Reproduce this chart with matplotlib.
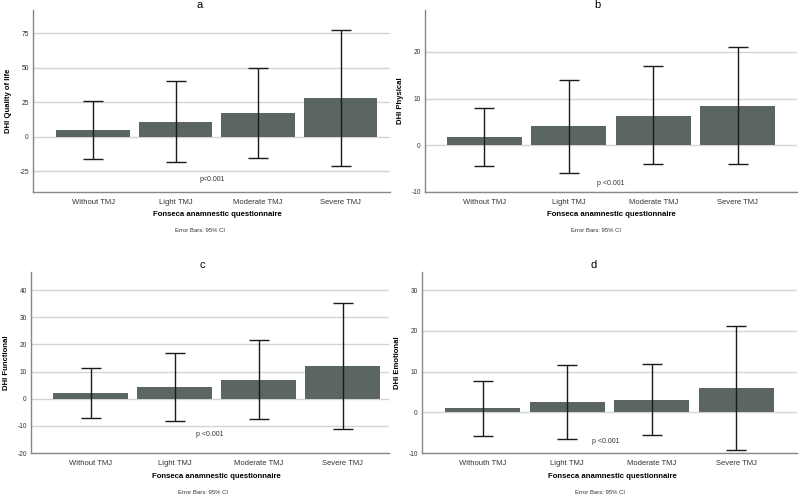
import matplotlib
matplotlib.use("Agg")
import matplotlib.pyplot as plt
import numpy as np

plt.rcParams['font.family'] = ['Liberation Sans', 'DejaVu Sans']

categories_abc = ["Without TMJ", "Light TMJ", "Moderate TMJ", "Severe TMJ"]
categories_d = ["Withouth TMJ", "Light TMJ", "Moderate TMJ", "Severe TMJ"]

# Panel a: DHI Quality of life
means_a = [4.8, 11.0, 17.0, 28.2]
ci_low_a = [-16.0, -18.2, -15.5, -21.0]
ci_high_a = [26.0, 40.4, 50.0, 77.8]

# Panel b: DHI Physical
means_b = [1.8, 4.05, 6.3, 8.45]
ci_low_b = [-4.4, -5.85, -4.05, -4.0]
ci_high_b = [8.1, 13.95, 16.9, 21.1]

# Panel c: DHI Functional
means_c = [2.0, 4.2, 7.0, 12.1]
ci_low_c = [-7.2, -8.2, -7.5, -11.0]
ci_high_c = [11.4, 16.7, 21.6, 35.2]

# Panel d: DHI Emotional
means_d = [1.05, 2.5, 3.1, 6.1]
ci_low_d = [-5.7, -6.5, -5.6, -9.2]
ci_high_d = [7.8, 11.6, 12.0, 21.3]

yticks_a = [-25, 0, 25, 50, 75]
yticks_b = [-10, 0, 10, 20]
yticks_c = [-20, -10, 0, 10, 20, 30, 40]
yticks_d = [-10, 0, 10, 20, 30]

fig = plt.figure(figsize=(8, 4.96), dpi=100)
W, H = 800, 496

def rect(l, r, t, b):
    return [l / W, 1 - b / H, (r - l) / W, (b - t) / H]

def fy(py):
    return 1 - py / H

panels = [
    dict(rect=rect(33, 390, 10, 192), title="a", ylabel="DHI Quality of life",
         cats=categories_abc, m=means_a, lo=ci_low_a, hi=ci_high_a,
         yticks=yticks_a, ylim=(-40, 92), xlim=(-0.73, 3.6),
         p="p<0.001", px=1.45, py=-31, tx=200, ty=5, xlx=217, xly=215, ex=200, ey=231),
    dict(rect=rect(425, 797, 10, 192), title="b", ylabel="DHI Physical",
         cats=categories_abc, m=means_b, lo=ci_low_b, hi=ci_high_b,
         yticks=yticks_b, ylim=(-10, 29), xlim=(-0.7, 3.7),
         p="p <0.001", px=1.5, py=-8.1, tx=597, ty=5, xlx=611, xly=215, ex=596, ey=231),
    dict(rect=rect(31, 389, 272, 453), title="c", ylabel="DHI Functional",
         cats=categories_abc, m=means_c, lo=ci_low_c, hi=ci_high_c,
         yticks=yticks_c, ylim=(-20, 46.7), xlim=(-0.71, 3.55),
         p="p <0.001", px=1.42, py=-13.2, tx=202, ty=265, xlx=216, xly=476, ex=203, ey=492),
    dict(rect=rect(422, 797, 272, 453), title="d", ylabel="DHI Emotional",
         cats=categories_d, m=means_d, lo=ci_low_d, hi=ci_high_d,
         yticks=yticks_d, ylim=(-10, 34.5), xlim=(-0.72, 3.72),
         p="p <0.001", px=1.45, py=-7.2, tx=594, ty=265, xlx=612, xly=476, ex=600, ey=492),
]

bar_color = "#5b6561"
for P in panels:
    ax = fig.add_axes(P["rect"])
    x = np.arange(len(P["cats"]))
    m = np.array(P["m"])
    lo = np.array(P["lo"])
    hi = np.array(P["hi"])
    ax.set_axisbelow(True)
    ax.yaxis.grid(True, color="#d4d4d4", lw=1.0)
    ax.bar(x, m, width=0.89, color=bar_color, zorder=2)
    ax.errorbar(x, m, yerr=[m - lo, hi - m], fmt="none", ecolor="#1a1a1a",
                elinewidth=1.0, capsize=7, capthick=1.0, zorder=3)
    ax.set_xlim(*P["xlim"])
    ax.set_ylim(*P["ylim"])
    ax.set_yticks(P["yticks"])
    ax.set_yticklabels([str(v) for v in P["yticks"]], fontsize=4.8, color="#333333")
    ax.set_xticks(x)
    ax.set_xticklabels(P["cats"], fontsize=5.5, color="#333333")
    ax.tick_params(axis="both", length=0, pad=3)
    ax.tick_params(axis="x", pad=5)
    for s in ["top", "right"]:
        ax.spines[s].set_visible(False)
    for s in ["left", "bottom"]:
        ax.spines[s].set_color("#888888")
        ax.spines[s].set_linewidth(1.0)
    ax.set_ylabel(P["ylabel"], fontsize=5.6, fontweight="bold", labelpad=5)
    ax.text(P["px"], P["py"], P["p"], fontsize=5, ha="center", va="center", color="#333333")
    fig.text(P["tx"] / W, fy(P["ty"]), P["title"], fontsize=8, ha="center", va="center")
    fig.text(P["xlx"] / W, fy(P["xly"]), "Fonseca anamnestic questionnaire",
             fontsize=5.6, fontweight="bold", ha="center", va="center")
    fig.text(P["ex"] / W, fy(P["ey"]), "Error Bars: 95% CI",
             fontsize=4.3, ha="center", va="center", color="#333333")

fig.savefig("out.png", dpi=100)
